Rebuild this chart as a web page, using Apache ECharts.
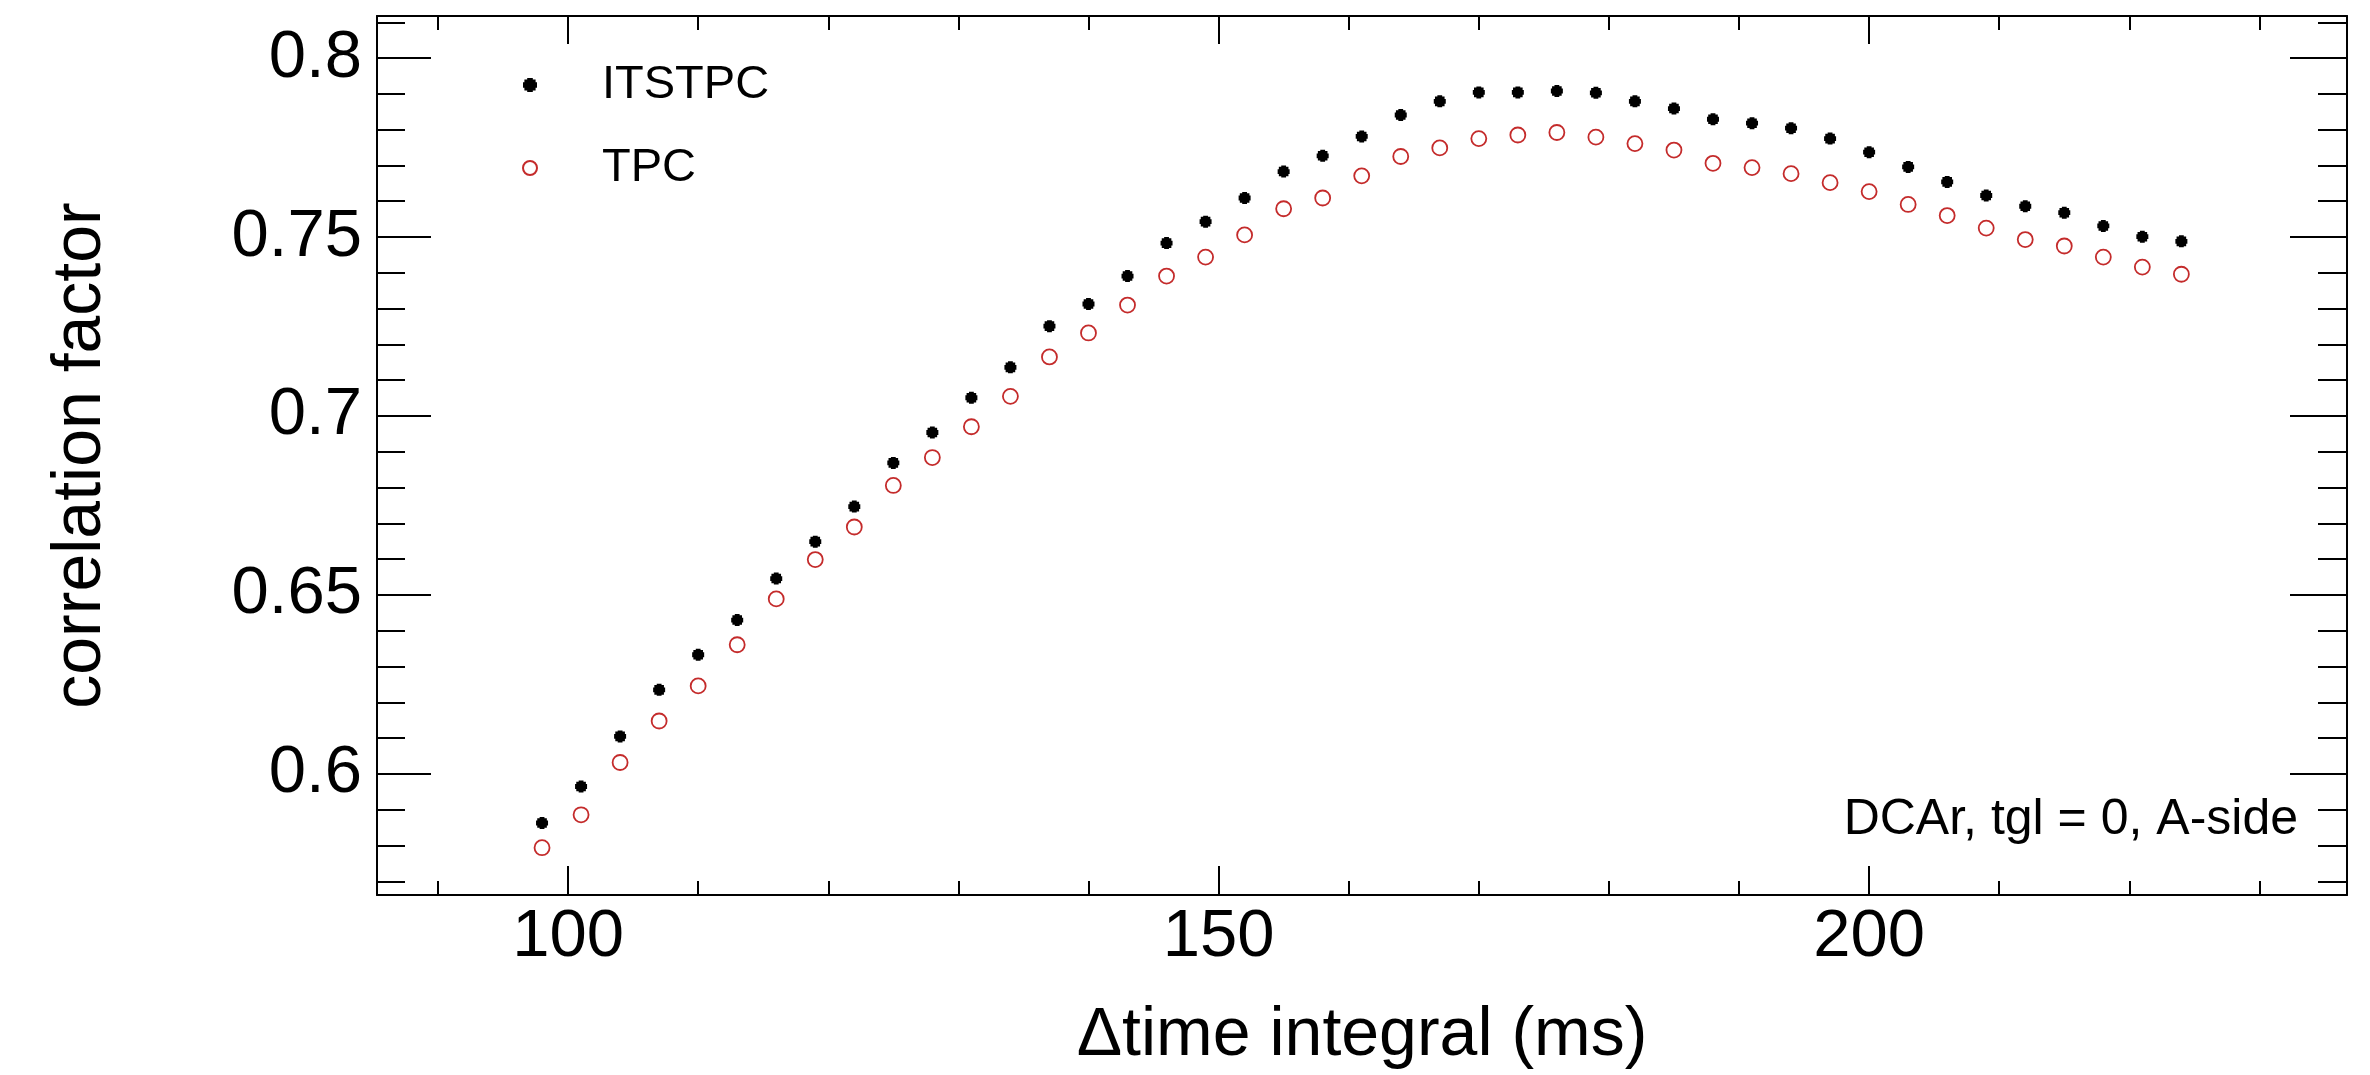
<!DOCTYPE html>
<html><head><meta charset="utf-8">
<script src="https://cdn.jsdelivr.net/npm/echarts@6/dist/echarts.min.js"></script>
<style>html,body{margin:0;padding:0;background:#fff}#c{width:2370px;height:1075px}</style>
</head><body><div id="c"></div>
<script>
// ---- data ----
const xValues = [98,101,104,107,110,113,116,119,122,125,128,131,134,137,140,143,146,149,152,155,158,161,164,167,170,173,176,179,182,185,188,191,194,197,200,203,206,209,212,215,218,221,224];
const itstpc = [0.5863,0.5965,0.6105,0.6235,0.6333,0.6430,0.6546,0.6649,0.6747,0.6869,0.6954,0.7051,0.7136,0.7251,0.7313,0.7391,0.7483,0.7543,0.7609,0.7683,0.7727,0.7781,0.7841,0.7879,0.7904,0.7904,0.7908,0.7903,0.7879,0.7859,0.7829,0.7818,0.7804,0.7775,0.7737,0.7696,0.7654,0.7616,0.7586,0.7568,0.7531,0.7501,0.7488];
const tpc = [0.5794,0.5886,0.6032,0.6148,0.6246,0.6361,0.6489,0.6599,0.6690,0.6806,0.6884,0.6970,0.7055,0.7165,0.7232,0.7310,0.7391,0.7444,0.7506,0.7579,0.7609,0.7671,0.7725,0.7749,0.7775,0.7785,0.7792,0.7779,0.7761,0.7743,0.7706,0.7694,0.7677,0.7652,0.7627,0.7591,0.7560,0.7525,0.7493,0.7475,0.7444,0.7416,0.7396];
const seriesNames = ['ITSTPC', 'TPC'];
const xMajorTicks = [100, 150, 200];
const xMinorTicks = [90, 110, 120, 130, 140, 160, 170, 180, 190, 210, 220, 230];
const yMajorTicks = [0.6, 0.65, 0.7, 0.75, 0.8];
const yMinorTicks = [0.57,0.58,0.59,0.61,0.62,0.63,0.64,0.66,0.67,0.68,0.69,0.71,0.72,0.73,0.74,0.76,0.77,0.78,0.79,0.81];
const xTitle = '\u0394time integral (ms)';
const yTitle = 'correlation factor';
const note = 'DCAr, tgl = 0, A-side';
const X_MIN = 85.315, X_MAX = 236.73;
const Y_MIN = 0.56619, Y_MAX = 0.81175;

// ---- chart ----
const FONT = '"Liberation Sans", Arial, Helvetica, sans-serif';
const line = {color: '#000', width: 2};
function xAx(pos, ticks, len, main, extra) {
  return Object.assign({
    type: 'value', position: pos, min: X_MIN, max: X_MAX,
    axisLine: {show: main, onZero: false, lineStyle: line},
    axisTick: {show: true, inside: true, length: len, customValues: ticks, lineStyle: line},
    axisLabel: {show: false},
    splitLine: {show: false}
  }, extra || {});
}
function yAx(pos, ticks, len, main, extra) {
  return Object.assign({
    type: 'value', position: pos, min: Y_MIN, max: Y_MAX,
    axisLine: {show: main, onZero: false, lineStyle: line},
    axisTick: {show: true, inside: true, length: len, customValues: ticks, lineStyle: line},
    axisLabel: {show: false},
    splitLine: {show: false}
  }, extra || {});
}
const pairs = (ys) => xValues.map((x, i) => [x, ys[i]]);

const chart = echarts.init(document.getElementById('c'), null, {renderer: 'canvas'});
chart.setOption({
  animation: false,
  backgroundColor: '#fff',
  grid: {left: 377, top: 16, width: 1970, height: 884, containLabel: false},
  xAxis: [
    xAx('bottom', xMajorTicks, 29, true, {
      axisLabel: {show: true, customValues: xMajorTicks, fontSize: 67, fontFamily: FONT, color: '#000', margin: 9},
      name: xTitle, nameLocation: 'middle', nameGap: 107,
      nameTextStyle: {fontSize: 68, fontFamily: FONT, color: '#000'}
    }),
    xAx('bottom', xMinorTicks, 14, false),
    xAx('top', xMajorTicks, 28, true),
    xAx('top', xMinorTicks, 14, false)
  ],
  yAxis: [
    yAx('left', yMajorTicks, 54, true, {
      axisLabel: {show: true, customValues: yMajorTicks, fontSize: 67, fontFamily: FONT, color: '#000', margin: 15},
      name: yTitle, nameLocation: 'middle', nameGap: 262,
      nameTextStyle: {fontSize: 68, fontFamily: FONT, color: '#000'}
    }),
    yAx('left', yMinorTicks, 28, false),
    yAx('right', yMajorTicks, 57, true),
    yAx('right', yMinorTicks, 29, false)
  ],
  legend: {
    orient: 'vertical', left: 517, top: 55,
    itemWidth: 14, itemHeight: 14, itemGap: 33,
    data: seriesNames,
    formatter: '{pad| }{name}',
    textStyle: {fontSize: 47, lineHeight: 50, fontFamily: FONT, color: '#000', rich: {pad: {width: 60}}}
  },
  graphic: [{
    type: 'text', right: 72, top: 795,
    style: {text: note, fontSize: 50, fontFamily: FONT, fill: '#000'}
  }],
  series: [
    {
      name: seriesNames[0], type: 'scatter', xAxisIndex: 0, yAxisIndex: 0,
      symbol: 'path://M3,0H7V1H9V3H10V7H9V9H7V10H3V9H1V7H0V3H1V1H3Z', symbolSize: 12,
      itemStyle: {color: '#000', opacity: 1},
      data: pairs(itstpc)
    },
    {
      name: seriesNames[1], type: 'scatter', xAxisIndex: 0, yAxisIndex: 0,
      symbol: 'circle', symbolSize: 15,
      itemStyle: {color: 'rgba(255,255,255,0)', borderColor: '#c42b2b', borderWidth: 1.8, opacity: 1},
      data: pairs(tpc)
    }
  ]
});
</script>
</body></html>
